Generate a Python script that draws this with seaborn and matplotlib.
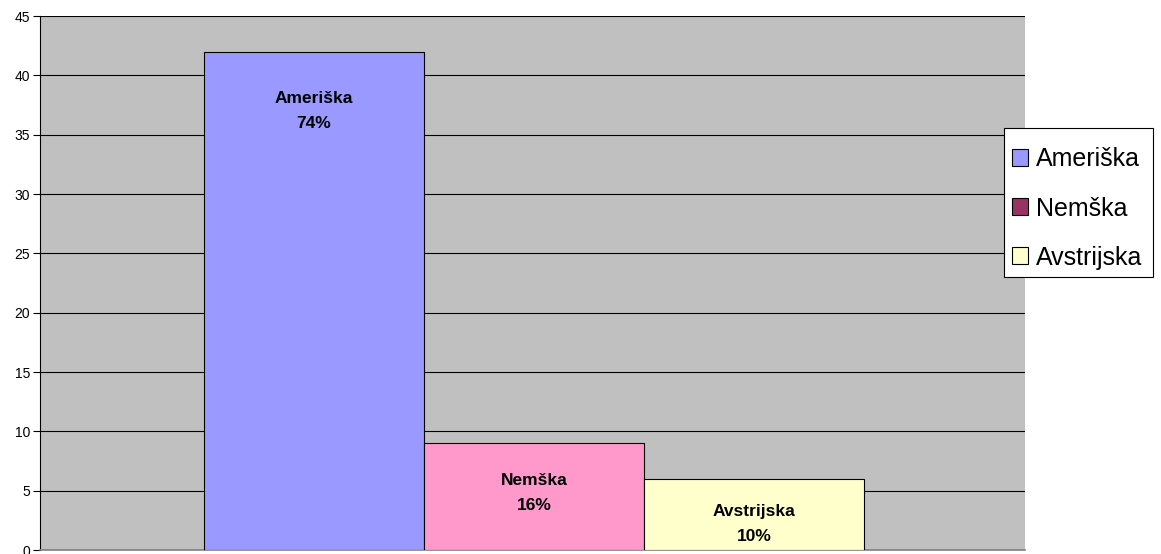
import matplotlib
matplotlib.use("Agg")
import matplotlib.pyplot as plt
from matplotlib.patches import Patch, Rectangle
import seaborn as sns
import pandas as pd

categories = ["Ameriška", "Nemška", "Avstrijska"]
values = [42, 9, 6]
percent_labels = ["74%", "16%", "10%"]
yticks = [0, 5, 10, 15, 20, 25, 30, 35, 40, 45]

bar_colors = ["#9999FF", "#FF99CC", "#FFFFCC"]
legend_colors = ["#9999FF", "#993366", "#FFFFCC"]
label_y = [37.0, 4.8, 2.2]

sns.set_style("white")
plt.rcParams['font.family'] = ['Liberation Sans', 'DejaVu Sans']
plt.rcParams['text.color'] = 'black'
plt.rcParams['ytick.color'] = 'black'
plt.rcParams['ytick.labelcolor'] = 'black'

df = pd.DataFrame({"cat": categories, "val": values})

fig = plt.figure(figsize=(11.61, 5.54), dpi=100)
W, H = 1161, 554
ax = fig.add_axes([40/W, 4/H, (1025-40)/W, (550-16)/H])
ax.set_facecolor("#C0C0C0")

sns.barplot(data=df, x="cat", y="val", hue="cat", palette=bar_colors,
            width=1.0, dodge=False, legend=False, ax=ax,
            edgecolor="black", linewidth=0.8, saturation=1, zorder=3)

for i, (c, p, ly) in enumerate(zip(categories, percent_labels, label_y)):
    ax.text(i, ly, f"{c}\n{p}", ha="center", va="center", fontsize=12.5,
            fontweight="bold", linespacing=1.8, color="black", zorder=4)

ax.set_ylim(0, 45)
ax.set_xlim(-1.245, 3.232)
ax.set_yticks(yticks)
ax.set_xticks([])
ax.set_xlabel("")
ax.set_ylabel("")
ax.yaxis.grid(True, color="black", linewidth=0.8, zorder=0)
ax.set_axisbelow(True)
for s in ["top", "right"]:
    ax.spines[s].set_visible(False)
ax.spines["left"].set_color("black")
ax.spines["left"].set_linewidth(0.8)
ax.spines["bottom"].set_color("#808080")
ax.spines["bottom"].set_linewidth(1.2)
ax.tick_params(axis="y", length=5, width=0.8, pad=2, labelsize=10, left=True,
               color="black", labelcolor="black")

# legend frame box
frame = Rectangle((1004/W, 1 - 277/H), 149/W, 149/H, transform=fig.transFigure,
                  facecolor="white", edgecolor="black", linewidth=0.8, zorder=5)
fig.patches.append(frame)

handles = [Patch(facecolor=c, edgecolor="black", linewidth=0.8) for c in legend_colors]
leg = fig.legend(handles, categories, loc="upper left",
                 bbox_to_anchor=(1004/W, 1 - 140/H),
                 fontsize=18, frameon=False,
                 handlelength=0.66, handleheight=0.66, handletextpad=0.3,
                 labelspacing=1.0, borderpad=0.3, borderaxespad=0)
leg.set_zorder(6)
for t in leg.get_texts():
    t.set_color("black")

fig.savefig("out.png", dpi=100, facecolor="white")
